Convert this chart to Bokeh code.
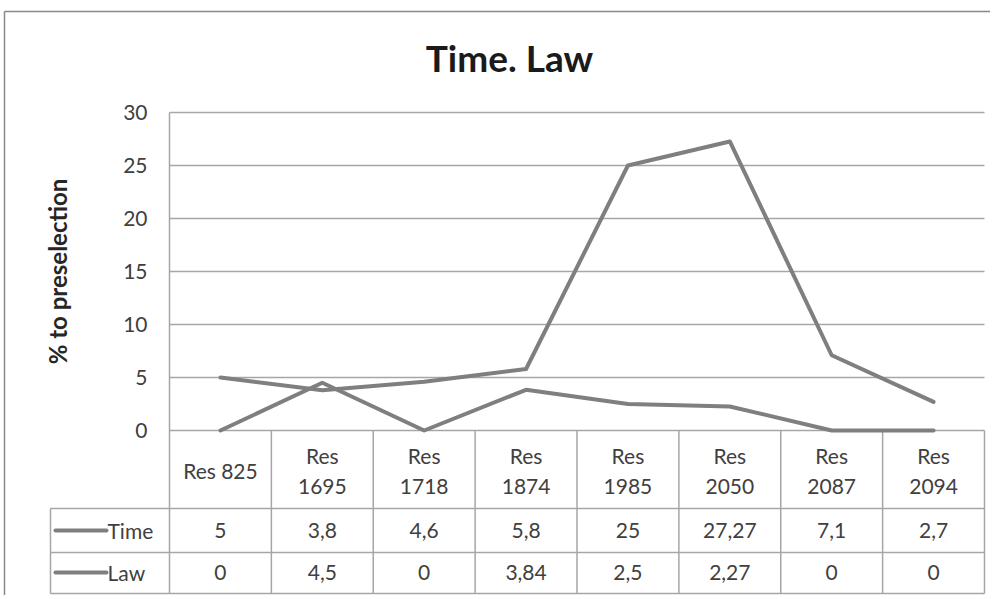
from bokeh.plotting import figure
from bokeh.models import Range1d, FixedTicker
from bokeh.core.properties import value
from bokeh.embed import file_html
from bokeh.resources import INLINE

# ---------------- data ----------------
categories = ["Res 825", "Res 1695", "Res 1718", "Res 1874",
              "Res 1985", "Res 2050", "Res 2087", "Res 2094"]
time_values = [5, 3.8, 4.6, 5.8, 25, 27.27, 7.1, 2.7]
law_values = [0, 4.5, 0, 3.84, 2.5, 2.27, 0, 0]
series_names = ["Time", "Law"]
y_ticks = [0, 5, 10, 15, 20, 25, 30]
title_text = "Time. Law"
y_label = "% to preselection"

# ---------------- layout (pixels of the picture) ----------------
W, H = 990, 595
ORIGIN = 0
PA_LEFT, PA_RIGHT, PA_TOP, PA_BOTTOM = 169, 984, 112, 430
Y_MAX = y_ticks[-1]
n = len(categories)
ux = (PA_RIGHT - PA_LEFT) / n
uy = (PA_BOTTOM - PA_TOP) / Y_MAX


def dx(px):
    return (px - PA_LEFT) / ux


def dy(py):
    return (PA_BOTTOM - py) / uy


FONT = "Lato"
TXT = "#404040"
GRID = "#a6a6a6"
LINE = "#7f7f7f"

p = figure(width=W, height=H, output_backend="svg", toolbar_location=None,
           x_range=Range1d(dx(ORIGIN), dx(ORIGIN + W)),
           y_range=Range1d(dy(ORIGIN + H), dy(ORIGIN)),
           x_axis_type=None, title=None, min_border=0)
p.outline_line_color = None
p.background_fill_color = "white"
p.border_fill_color = "white"
p.ygrid.visible = False

ax = p.yaxis[0]
ax.ticker = FixedTicker(ticks=y_ticks)
ax.fixed_location = 0
ax.bounds = (0, Y_MAX)
ax.axis_line_color = None
ax.major_tick_line_color = None
ax.minor_tick_line_color = None
ax.major_tick_out = 0
ax.major_tick_in = 0
ax.major_label_standoff = 22
ax.major_label_text_font = FONT
ax.major_label_text_font_size = "21px"
ax.major_label_text_color = TXT
ax.axis_label = y_label
ax.axis_label_text_font = FONT
ax.axis_label_text_font_size = "24px"
ax.axis_label_text_font_style = "bold"
ax.axis_label_text_color = "#262626"
ax.axis_label_standoff = 48

# outer chart border
p.segment(x0=[dx(4), dx(4)], y0=[dy(11), dy(11)],
          x1=[dx(ORIGIN + W), dx(4)], y1=[dy(11), dy(ORIGIN + H)],
          line_color="#888888", line_width=1.5)

# horizontal gridlines
grid_y = y_ticks[1:]
p.segment(x0=[0] * len(grid_y), y0=grid_y, x1=[n] * len(grid_y), y1=grid_y,
          line_color=GRID, line_width=1.5)

# data table grid
hb, tb, bot = dy(508), dy(552), dy(593)
leg_left = dx(50)
hx0 = [0, leg_left, leg_left, leg_left]
hy = [0, hb, tb, bot]
hx1 = [n] * 4
p.segment(x0=hx0, y0=hy, x1=hx1, y1=hy, line_color=GRID, line_width=1.5)
vx = [0] + list(range(1, n + 1)) + [leg_left]
vy0 = [Y_MAX] + [0] * n + [hb]
p.segment(x0=vx, y0=vy0, x1=vx, y1=[bot] * len(vx), line_color=GRID, line_width=1.5)

centers = [i + 0.5 for i in range(n)]

# series lines
for vals in (time_values, law_values):
    p.line(x=centers, y=vals, line_color=LINE, line_width=4,
           line_join="round", line_cap="round")

# header labels
header_labels = [c if len(c) <= 7 else c.replace(" ", "\n") for c in categories]
p.text(x=centers, y=[dy(470)] * n, text=header_labels,
       text_align="center", text_baseline="middle", text_line_height=1.2,
       text_font=value(FONT), text_font_size="21px", text_color=TXT)


def fmt(v):
    return f"{v:g}".replace(".", ",")


row_y = [dy(530), dy(572)]
for name, vals, ry in zip(series_names, (time_values, law_values), row_y):
    p.text(x=centers, y=[ry] * n, text=[fmt(v) for v in vals],
           text_align="center", text_baseline="middle",
           text_font=value(FONT), text_font_size="21px", text_color=TXT)
    p.line(x=[dx(55), dx(106)], y=[ry, ry], line_color=LINE, line_width=4,
           line_cap="round")
    p.text(x=[dx(107)], y=[ry], text=[name], text_align="left",
           text_baseline="middle", text_font=value(FONT),
           text_font_size="21px", text_color=TXT)

# title
p.text(x=[dx(509)], y=[dy(57)], text=[title_text], text_align="center",
       text_baseline="middle", text_font=value(FONT),
       text_font_size="37px", text_font_style="bold", text_color="#1a1a1a")

open("out.html", "w").write(file_html(p, INLINE))
